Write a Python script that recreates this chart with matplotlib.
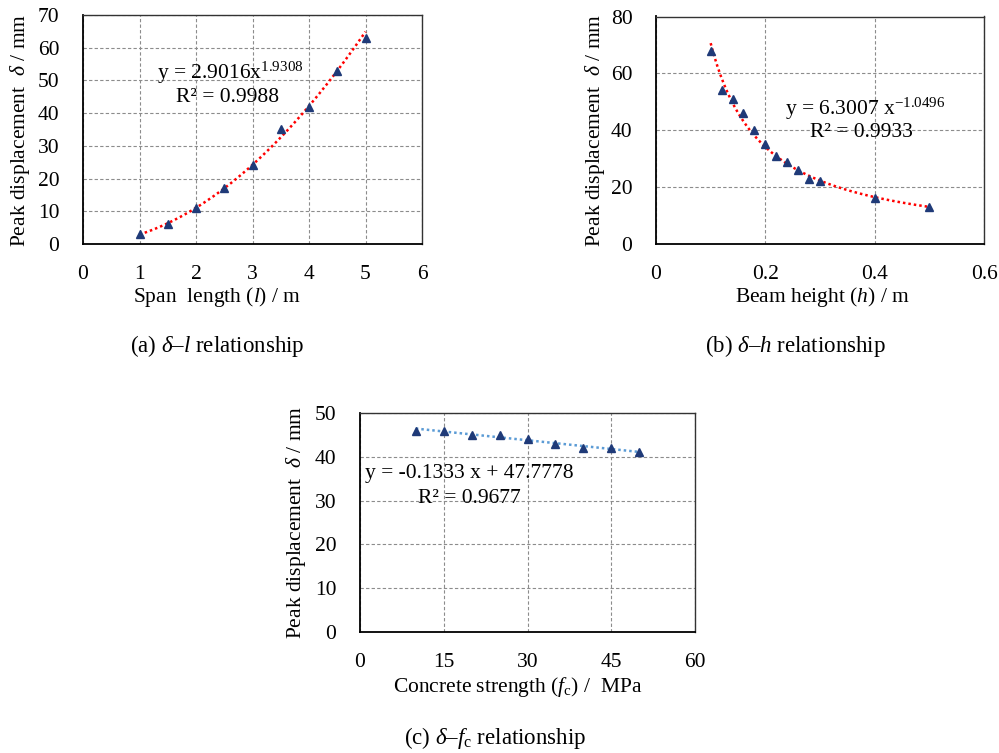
import matplotlib
matplotlib.use("Agg")
import matplotlib.pyplot as plt
import numpy as np

plt.rcParams['font.family'] = ['Liberation Serif', 'DejaVu Serif']
plt.rcParams['mathtext.fontset'] = 'custom'
plt.rcParams['mathtext.rm'] = 'Liberation Serif'
plt.rcParams['mathtext.it'] = 'Liberation Serif:italic'
plt.rcParams['mathtext.bf'] = 'Liberation Serif:bold'

# ---------------- data ----------------
span_l = [1.0, 1.5, 2.0, 2.5, 3.0, 3.5, 4.0, 4.5, 5.0]
delta_l = [3, 6, 11, 17, 24, 35, 42, 53, 63]

height_h = [0.10, 0.12, 0.14, 0.16, 0.18, 0.20, 0.22, 0.24, 0.26, 0.28, 0.30, 0.40, 0.50]
delta_h = [68, 54, 51, 46, 40, 35, 31, 29, 26, 23, 22, 16, 13]

strength_fc = [10, 15, 20, 25, 30, 35, 40, 45, 50]
delta_fc = [46, 46, 45, 45, 44, 43, 42, 42, 41]

# trendline coefficients (as printed on the chart)
fit_a = (2.9016, 1.9308)
fit_b = (6.3007, -1.0496)
fit_c = (-0.1333, 47.7778)

xticks_a = [0, 1, 2, 3, 4, 5, 6]
yticks_a = [0, 10, 20, 30, 40, 50, 60, 70]
xticks_b = [0, 0.2, 0.4, 0.6]
xticklabels_b = ['0', '0.2', '0.4', '0.6']
yticks_b = [0, 20, 40, 60, 80]
xticks_c = [0, 15, 30, 45, 60]
yticks_c = [0, 10, 20, 30, 40, 50]

# ---------------- layout ----------------
W, H = 999, 753
fig = plt.figure(figsize=(W / 100, H / 100), dpi=100)

def fx(px):
    return px / W

def fy(py):
    return 1 - py / H

def make_ax(x0, y0, x1, y1):
    return fig.add_axes([fx(x0), fy(y1), fx(x1) - fx(x0), (y1 - y0) / H])

FS = 15.5
MARK = '#1F3A78'
GRID = dict(color='#8c8c8c', linestyle=(0, (3, 2)), linewidth=0.8)

def style(ax, xt, yt, xlim, ylim, xtl=None):
    ax.set_xlim(*xlim)
    ax.set_ylim(*ylim)
    ax.set_xticks(xt)
    ax.set_yticks(yt)
    if xtl is not None:
        ax.set_xticklabels(xtl)
    ax.tick_params(axis='both', length=0, labelsize=FS)
    ax.tick_params(axis='x', pad=15)
    ax.tick_params(axis='y', pad=17)
    ax.grid(True, **GRID)
    ax.set_axisbelow(True)
    for s in ['left', 'bottom']:
        ax.spines[s].set_color('black')
        ax.spines[s].set_linewidth(1.3)
    for s in ['top', 'right']:
        ax.spines[s].set_color('#333333')
        ax.spines[s].set_linewidth(1.0)

ylabel = 'Peak displacement  $\\delta$ / mm'

# ---- (a) ----
axa = make_ax(83, 15, 422, 244)
style(axa, xticks_a, yticks_a, (0, 6), (0, 70))
xa = np.linspace(min(span_l), max(span_l), 200)
axa.plot(xa, fit_a[0] * xa ** fit_a[1], color='red', linestyle=(0, (1, 1.2)), linewidth=1.8, zorder=3)
axa.plot(span_l, delta_l, linestyle='none', marker='^', color=MARK, markersize=5.5, zorder=4)

# ---- (b) ----
axb = make_ax(656, 16.5, 984, 244)
style(axb, xticks_b, yticks_b, (0, 0.6), (0, 80), xticklabels_b)
xb = np.linspace(min(height_h), max(height_h), 200)
axb.plot(xb, fit_b[0] * xb ** fit_b[1], color='red', linestyle=(0, (1, 1.2)), linewidth=1.8, zorder=3)
axb.plot(height_h, delta_h, linestyle='none', marker='^', color=MARK, markersize=5.5, zorder=4)

# ---- (c) ----
axc = make_ax(360, 413, 695, 632)
style(axc, xticks_c, yticks_c, (0, 60), (0, 50))
xc = np.linspace(min(strength_fc), max(strength_fc), 50)
axc.plot(xc, fit_c[0] * xc + fit_c[1], color='#5B9BD5', linestyle=(0, (1, 1.2)), linewidth=1.8, zorder=3)
axc.plot(strength_fc, delta_fc, linestyle='none', marker='^', color=MARK, markersize=5.5, zorder=4)

# ---- labels (figure pixel coords) ----
def ftext(px, py, s, **kw):
    kw.setdefault('fontsize', FS)
    fig.text(fx(px), fy(py), s, **kw)

# y labels
ftext(20, 130, ylabel, rotation=90, ha='center', va='center')
ftext(595, 130, ylabel, rotation=90, ha='center', va='center')
ftext(296, 522, ylabel, rotation=90, ha='center', va='center')

# x labels
ftext(217, 297, 'Span  length ($l$) / m', ha='center', va='center')
ftext(822, 297, 'Beam height ($h$) / m', ha='center', va='center')
ftext(518, 687, 'Concrete strength ($f_\\mathrm{c}$) /  MPa', ha='center', va='center')

# captions
CFS = 16.5
ftext(217, 346, '(a) $\\delta$\u2013$l$ relationship', ha='center', va='center', fontsize=CFS)
ftext(795, 346, '(b) $\\delta$\u2013$h$ relationship', ha='center', va='center', fontsize=CFS)
ftext(495, 738, '(c) $\\delta$\u2013$f_\\mathrm{c}$ relationship', ha='center', va='center', fontsize=CFS)

# trendline equations
ftext(157, 79, 'y = 2.9016$\\mathregular{x^{1.9308}}$', ha='left', va='baseline')
ftext(176, 102, 'R\u00b2 = 0.9988', ha='left', va='baseline')
ftext(785, 115, 'y = 6.3007 $\\mathregular{x^{-1.0496}}$', ha='left', va='baseline')
ftext(810, 137, 'R\u00b2 = 0.9933', ha='left', va='baseline')
ftext(365, 478, 'y = -0.1333 x + 47.7778', ha='left', va='baseline')
ftext(418, 503, 'R\u00b2 = 0.9677', ha='left', va='baseline')

fig.savefig('out.png', dpi=100)
